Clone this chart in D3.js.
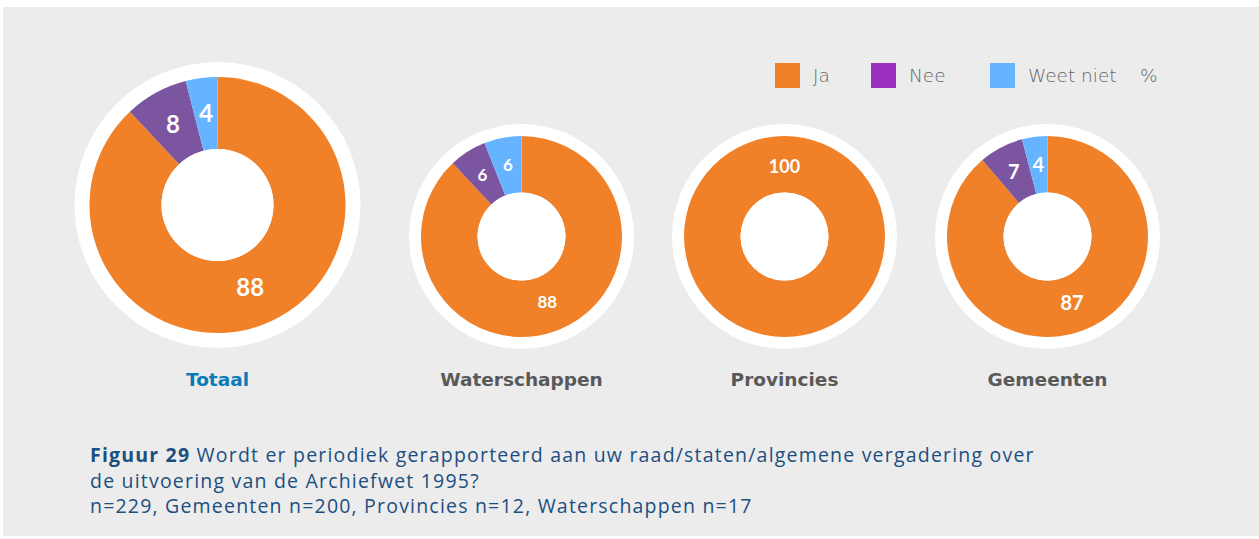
<!DOCTYPE html>
<html><head><meta charset="utf-8">
<script src="https://cdn.jsdelivr.net/npm/d3@7"></script>
<style>body{margin:0;background:#fff}svg{display:block}</style>
</head><body><svg id="c" width="1259" height="539"></svg>
<script>
const categories = ["Totaal", "Waterschappen", "Provincies", "Gemeenten"];
const seriesNames = ["Ja", "Nee", "Weet niet"];
const ja = [88, 88, 100, 87];
const nee = [8, 6, 0, 7];
const weetNiet = [4, 6, 0, 4];
const unitLabel = "%";
const captionBold = "Figuur 29";
const captionLines = ["Wordt er periodiek gerapporteerd aan uw raad/staten/algemene vergadering over",
  "de uitvoering van de Archiefwet 1995?",
  "n=229, Gemeenten n=200, Provincies n=12, Waterschappen n=17"];

const pieColors = ["#f08129", "#7b55a0", "#66b3ff"];
const legendColors = ["#f08129", "#9c31c0", "#66b3ff"];

const svg = d3.select("#c");
svg.append("rect").attr("x",3).attr("y",7).attr("width",1256).attr("height",529).attr("fill","#ececec");

const layout = [
  {cx:217.5, cy:205, r:128, ri:56, ring:15, fs:24, rm:89},
  {cx:521.5, cy:236.5, r:100.5, ri:44, ring:12, fs:17, rm:70},
  {cx:784.5, cy:236.5, r:100.5, ri:44, ring:12, fs:18, rm:70},
  {cx:1047.5, cy:236.5, r:100.5, ri:44, ring:12, fs:20, rm:71}
];

const pie = d3.pie().sort(null).value(d => d.v);
categories.forEach((cat, i) => {
  const L = layout[i];
  const data = [ja[i], nee[i], weetNiet[i]].map((v, k) => ({v, k}));
  const g = svg.append("g").attr("transform", `translate(${L.cx},${L.cy})`);
  g.append("circle").attr("r", L.r + L.ring).attr("fill", "#fff");
  const arc = d3.arc().innerRadius(L.ri).outerRadius(L.r);
  const arcs = pie(data).filter(d => d.data.v > 0);
  g.selectAll("path").data(arcs).join("path")
    .attr("d", arc).attr("fill", d => pieColors[d.data.k]);
  const rm = L.rm;
  g.selectAll("text").data(arcs).join("text")
    .attr("transform", d => {
      let a = (d.endAngle - d.startAngle) >= 2*Math.PI - 1e-6 ? d.startAngle : (d.startAngle + d.endAngle) / 2;
      const rr = d.data.k === 0 ? rm : (L.ri + L.r) / 2 + 0.5;
      return `translate(${rr*Math.sin(a)},${-rr*Math.cos(a)})`;
    })
    .attr("text-anchor", "middle").attr("dy", "0.36em")
    .attr("fill", "#fff").attr("font-family", "Lato, 'Open Sans', sans-serif")
    .attr("font-weight", "bold").attr("font-size", L.fs)
    .text(d => d.data.v);
  g.append("circle").attr("r", L.ri).attr("fill", "#fff");
  svg.append("text").attr("x", L.cx).attr("y", 379).attr("dy", "0.36em")
    .attr("text-anchor", "middle").attr("font-family", "'DejaVu Sans', sans-serif")
    .attr("font-weight", "bold").attr("font-size", 18.5)
    .attr("fill", i === 0 ? "#0a7ab8" : "#595959").text(cat);
});

// legend
const legX = [775, 871, 990];
seriesNames.forEach((s, k) => {
  svg.append("rect").attr("x", legX[k]).attr("y", 63).attr("width", 25).attr("height", 25).attr("fill", legendColors[k]);
  svg.append("text").attr("x", legX[k] + 38).attr("y", 75.5).attr("dy", "0.36em")
    .attr("font-family", "'DejaVu Sans', sans-serif").attr("font-weight", 300).attr("font-size", 18.5)
    .attr("fill", "#666").text(s);
});
svg.append("text").attr("x", 1140).attr("y", 75.5).attr("dy", "0.36em")
  .attr("font-family", "'DejaVu Sans', sans-serif").attr("font-weight", 300).attr("font-size", 18.5).attr("fill", "#666").text(unitLabel);

// caption
const cap = svg.append("g").attr("font-family", "'Open Sans', sans-serif").attr("font-size", 19.5)
  .attr("letter-spacing", "1.2px").attr("fill", "#1b4f80");
const t1 = cap.append("text").attr("x", 90).attr("y", 462);
t1.append("tspan").attr("font-weight", "bold").text(captionBold + " ");
t1.append("tspan").text(captionLines[0]);
cap.append("text").attr("x", 90).attr("y", 487.5).text(captionLines[1]);
cap.append("text").attr("x", 90).attr("y", 513).text(captionLines[2]);
</script></body></html>
